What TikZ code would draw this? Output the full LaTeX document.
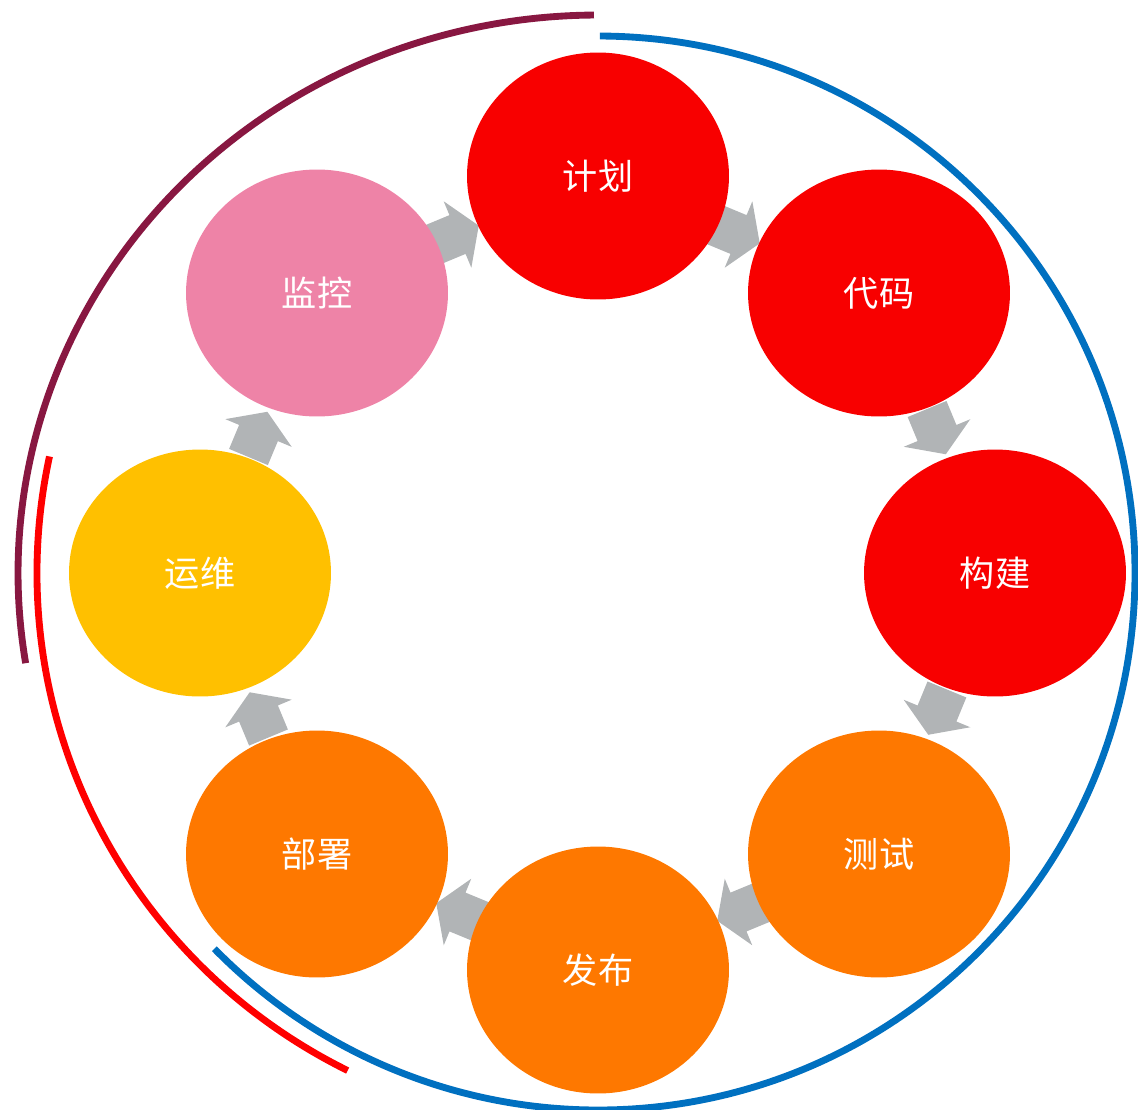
\documentclass[tikz,border=0pt]{standalone}
\usepackage{fontspec}
\newfontfamily\cjk{Noto Sans CJK SC}
\usetikzlibrary{shapes.geometric,calc}
\pgfdeclarelayer{bg}
\pgfsetlayers{bg,main}
\definecolor{cred}{HTML}{F80000}
\definecolor{corange}{HTML}{FE7800}
\definecolor{cyellow}{HTML}{FFC000}
\definecolor{cpink}{HTML}{EE83A7}
\definecolor{cgray}{HTML}{B1B4B6}
\definecolor{arcpurple}{HTML}{881741}
\definecolor{arcred}{HTML}{FF0000}
\definecolor{arcblue}{HTML}{0070C0}
\tikzset{
  stage/.style={ellipse, draw=none, inner sep=0pt, minimum width=5.24cm, minimum height=4.94cm,
    text=white, font=\cjk\fontsize{20}{20}\selectfont},
  ring/.style={line width=3.9pt},
  blockarrow/.style={fill=cgray}
}
\begin{document}
\begin{tikzpicture}[x=0.02cm, y=-0.02cm]
\useasboundingbox (0,0) rectangle (1138,1109);
\coordinate (c) at (598,573);
% stages
\node[stage, fill=cred]    (jh) at (598,176) {计划};
\node[stage, fill=cred]    (dm) at (879,293) {代码};
\node[stage, fill=cred]    (gj) at (995,573) {构建};
\node[stage, fill=corange] (cs) at (879,854) {测试};
\node[stage, fill=corange] (fb) at (598,970) {发布};
\node[stage, fill=corange] (bs) at (317,854) {部署};
\node[stage, fill=cyellow] (yw) at (200,573) {运维};
\node[stage, fill=cpink]   (jk) at (317,293) {监控};
% block arrows
\begin{pgfonlayer}{bg}
\foreach \a/\b in {jh/dm, dm/gj, gj/cs, cs/fb, fb/bs, bs/yw, yw/jk, jk/jh} {
  \fill[blockarrow] let \p1=($(\b.center)-(\a.center)$), \n1={atan2(\y1,\x1)} in
    [shift={($(\a.center)!0.5!(\b.center)$)}, rotate=\n1]
    (-26,-21) -- (0,-21) -- (0,-36) -- (23,0) -- (0,36) -- (0,21) -- (-26,21) -- cycle;
}
\end{pgfonlayer}
% arcs
\draw[ring, arcblue] ($(c)+(-89.8:537)$) arc[start angle=-89.8, end angle=135.6, radius=537];
\draw[ring, arcpurple] ($(c)+(-90.4:580 and 558)$) arc[start angle=-90.4, end angle=-189.3, x radius=580, y radius=558];
\draw[ring, arcred] ($(c)+(-167.9:561 and 556)$) arc[start angle=-167.9, end angle=-243.5, x radius=561, y radius=556];
\end{tikzpicture}
\end{document}
